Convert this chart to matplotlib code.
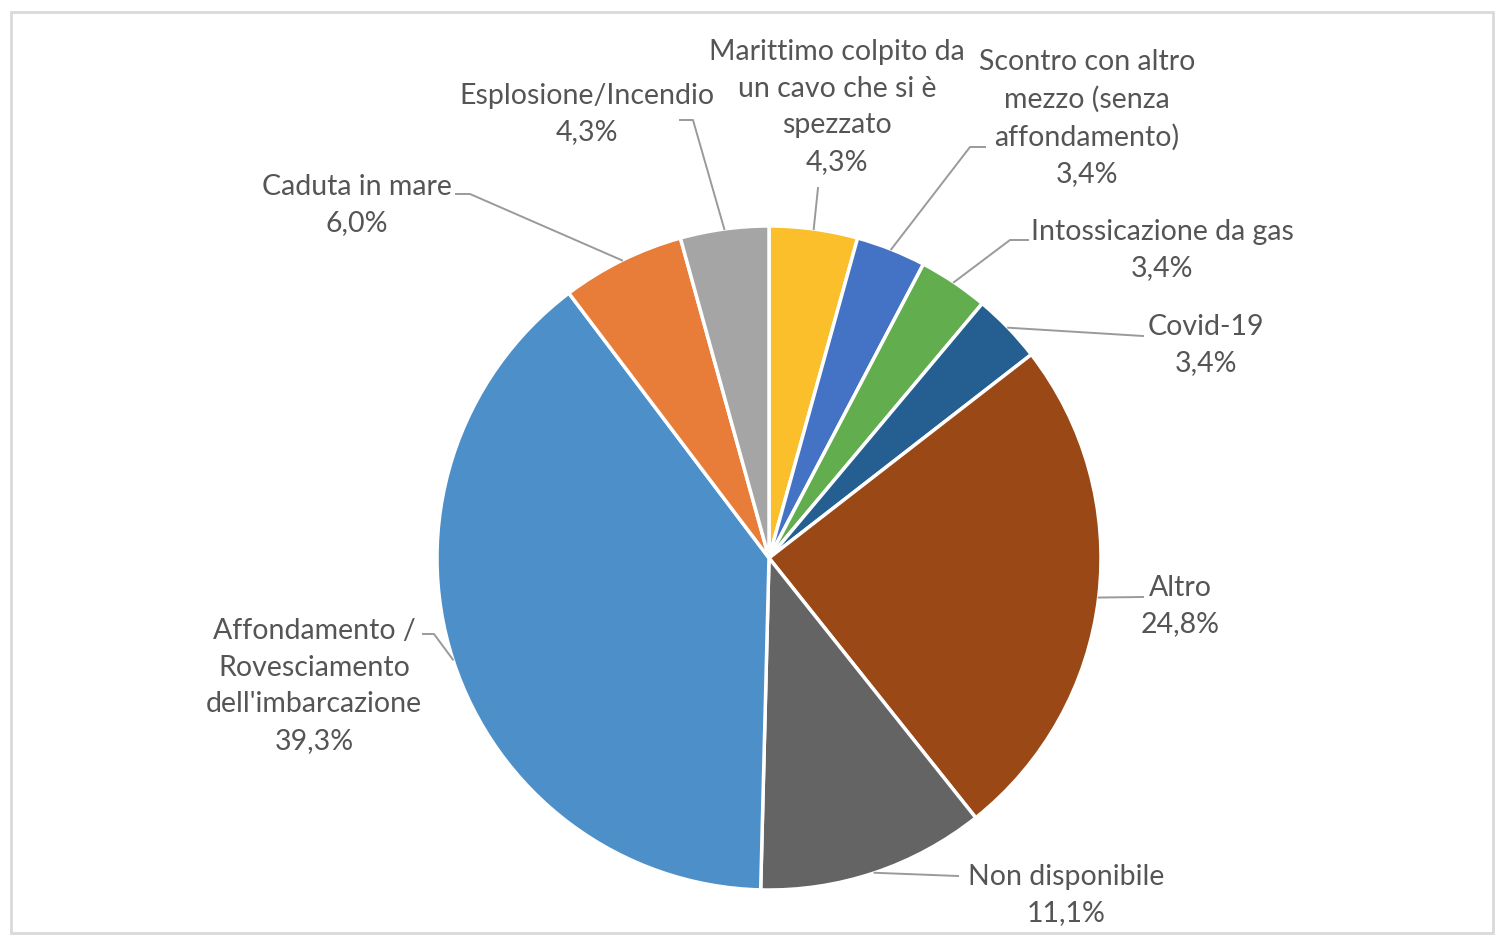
import numpy as np
import matplotlib
matplotlib.use("Agg")
import matplotlib.pyplot as plt
from matplotlib.patches import Rectangle

# data, clockwise from 12 o'clock
labels = [
    "Marittimo colpito da\nun cavo che si è\nspezzato",
    "Scontro con altro\nmezzo (senza\naffondamento)",
    "Intossicazione da gas",
    "Covid-19",
    "Altro",
    "Non disponibile",
    "Affondamento /\nRovesciamento\ndell'imbarcazione",
    "Caduta in mare",
    "Esplosione/Incendio",
]
shares = [4.3, 3.4, 3.4, 3.4, 24.8, 11.1, 39.3, 6.0, 4.3]
colors = ["#FBBF2C", "#4472C4", "#62AD4E", "#255E91", "#9A4815",
          "#646464", "#4C8FC9", "#E87D3A", "#A5A5A5"]

# label layout in picture pixels: text centre, leader knee points
W, H = 1495, 935
text_pos = [(837, 107), (1087, 118), (1162, 250), (1206, 345), (1180, 606),
            (1066, 895), (314, 686), (357, 205), (587, 114)]
leader_pts = [
    [(818, 188)],
    [(970, 147), (985, 147)],
    [(1010, 240), (1028, 240)],
    [(1143, 336)],
    [(1143, 597)],
    [(958, 876)],
    [(434, 634), (423, 634)],
    [(470, 194), (456, 194)],
    [(693, 120), (680, 120)],
]

cx, cy, r = 769, 558, 332
text_color = "#555555"
line_color = "#9a9a9a"

plt.rcParams["font.family"] = ["Lato", "DejaVu Sans"]

fig = plt.figure(figsize=(W / 100, H / 100), dpi=100)
ax = fig.add_axes([0, 0, 1, 1])


def py(y):
    return H - y


ax.pie(shares, colors=colors, startangle=90, counterclock=False,
       center=(cx, py(cy)), radius=r, frame=True,
       wedgeprops=dict(edgecolor="white", linewidth=2.5))
ax.set_xlim(0, W)
ax.set_ylim(0, H)
ax.set_aspect("equal")
ax.axis("off")

cum = np.cumsum([0] + shares)
for i, (lab, val) in enumerate(zip(labels, shares)):
    mid = np.deg2rad((cum[i] + val / 2) / 100 * 360)
    sx = cx + r * np.sin(mid)
    sy = cy - r * np.cos(mid)
    pts = [(sx, sy)] + leader_pts[i]
    ax.plot([p[0] for p in pts], [py(p[1]) for p in pts],
            color=line_color, lw=1.4, zorder=1)
    tx, ty = text_pos[i]
    ax.text(tx, py(ty), f"{lab}\n{val:.1f}%".replace(".", ","),
            ha="center", va="center", multialignment="center",
            fontsize=20.5, color=text_color, linespacing=1.5)

ax.add_patch(Rectangle((11, py(933)), 1482, 921, fill=False,
                       edgecolor="#d9d9d9", lw=2))

fig.savefig("out.png", dpi=100)
